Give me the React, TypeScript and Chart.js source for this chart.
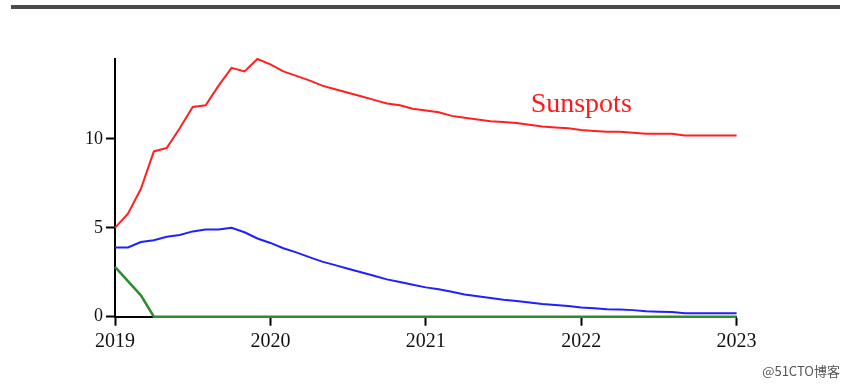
import React, { useEffect, useRef } from "react";
import { Chart, registerables } from "chart.js";

Chart.register(...registerables);

// Monthly samples from Jan 2019 (index 0) to Jan 2023 (index 48)
const startYear = 2019;
const monthIndex = [
  0, 1, 2, 3, 4, 5, 6, 7, 8, 9, 10, 11, 12, 13, 14, 15, 16, 17, 18, 19, 20, 21, 22, 23, 24,
  25, 26, 27, 28, 29, 30, 31, 32, 33, 34, 35, 36, 37, 38, 39, 40, 41, 42, 43, 44, 45, 46, 47, 48,
];

const sunspots = [
  5.0, 5.8, 7.2, 9.3, 9.5, 10.6, 11.8, 11.9, 13.0, 14.0, 13.8, 14.5, 14.2, 13.8, 13.55, 13.3,
  13.0, 12.8, 12.6, 12.4, 12.2, 12.0, 11.9, 11.7, 11.6, 11.5, 11.3, 11.2, 11.1, 11.0, 10.95,
  10.9, 10.8, 10.7, 10.65, 10.6, 10.5, 10.45, 10.4, 10.4, 10.35, 10.3, 10.3, 10.3, 10.2, 10.2,
  10.2, 10.2, 10.2,
];

const blueSeries = [
  3.9, 3.9, 4.2, 4.3, 4.5, 4.6, 4.8, 4.9, 4.9, 5.0, 4.75, 4.4, 4.15, 3.85, 3.62, 3.35, 3.1,
  2.9, 2.7, 2.5, 2.3, 2.1, 1.95, 1.8, 1.65, 1.55, 1.4, 1.25, 1.15, 1.05, 0.95, 0.88, 0.8, 0.72,
  0.66, 0.6, 0.52, 0.47, 0.42, 0.4, 0.37, 0.3, 0.28, 0.27, 0.2, 0.2, 0.2, 0.2, 0.2,
];

const greenSeries = [
  2.8, 2.0, 1.2, 0, 0, 0, 0, 0, 0, 0, 0, 0, 0, 0, 0, 0, 0, 0, 0, 0, 0, 0, 0, 0, 0, 0, 0, 0, 0,
  0, 0, 0, 0, 0, 0, 0, 0, 0, 0, 0, 0, 0, 0, 0, 0, 0, 0, 0, 0,
];

const xTicks = [2019, 2020, 2021, 2022, 2023];
const xTickLabels = ["2019", "2020", "2021", "2022", "2023"];
const yTicks = [0, 5, 10];
const yTickLabels = ["0", "5", "10"];

const annotationText = "Sunspots";
const annotationX = 2022.0;
const annotationY = 11.5;

const watermark = "@51CTO博客";

const toPoints = (vals: number[]) =>
  monthIndex.map((m, i) => ({ x: startYear + m / 12, y: vals[i] }));

const labelPlugin = {
  id: "sunspotsLabel",
  afterDatasetsDraw(chart: any) {
    const { ctx, scales } = chart;
    const x = scales.x.getPixelForValue(annotationX);
    const y = scales.y.getPixelForValue(annotationY);
    ctx.save();
    ctx.font = '28px "Liberation Serif"';
    ctx.fillStyle = "#ff1a1a";
    ctx.textAlign = "center";
    ctx.textBaseline = "alphabetic";
    ctx.fillText(annotationText, x, y);
    ctx.restore();
  },
};

export default function App() {
  const canvasRef = useRef<HTMLCanvasElement | null>(null);

  useEffect(() => {
    const canvas = canvasRef.current;
    if (!canvas) return;
    const chart = new Chart(canvas, {
      type: "line",
      data: {
        datasets: [
          {
            label: "Sunspots",
            data: toPoints(sunspots),
            borderColor: "#ff2020",
            borderWidth: 2,
            pointRadius: 0,
            tension: 0,
            fill: false,
            clip: false,
          },
          {
            label: "Blue",
            data: toPoints(blueSeries),
            borderColor: "#2020ff",
            borderWidth: 2,
            pointRadius: 0,
            tension: 0,
            fill: false,
            clip: false,
          },
          {
            label: "Green",
            data: toPoints(greenSeries),
            borderColor: "#2d8c2d",
            borderWidth: 2.5,
            pointRadius: 0,
            tension: 0,
            fill: false,
            clip: false,
          },
        ],
      },
      options: {
        animation: false,
        responsive: false,
        maintainAspectRatio: false,
        layout: {
          padding: { left: 0, top: 59, right: 111.4, bottom: 27.3 },
        },
        plugins: {
          legend: { display: false },
          tooltip: { enabled: false },
        },
        scales: {
          x: {
            type: "linear",
            min: xTicks[0],
            max: xTicks[xTicks.length - 1],
            afterBuildTicks: (scale: any) => {
              scale.ticks = xTicks.map((v) => ({ value: v }));
            },
            afterFit: (scale: any) => {
              scale.height = 40;
            },
            border: { display: true, color: "#000", width: 2 },
            grid: {
              drawOnChartArea: false,
              drawTicks: true,
              tickLength: 9,
              tickWidth: 2,
              tickColor: "#000",
              color: "#000",
            },
            ticks: {
              padding: 4,
              color: "#111",
              maxRotation: 0,
              autoSkip: false,
              font: { family: '"Liberation Serif"', size: 20 },
              callback: (v: any) => {
                const i = xTicks.indexOf(Number(v));
                return i >= 0 ? xTickLabels[i] : "";
              },
            },
          },
          y: {
            type: "linear",
            min: 0,
            max: 14.5,
            afterBuildTicks: (scale: any) => {
              scale.ticks = yTicks.map((v) => ({ value: v }));
            },
            afterFit: (scale: any) => {
              scale.width = 115;
            },
            border: { display: true, color: "#000", width: 2 },
            grid: {
              drawOnChartArea: false,
              drawTicks: true,
              tickLength: 9,
              tickWidth: 2,
              tickColor: "#000",
              color: "#000",
            },
            ticks: {
              padding: 3,
              color: "#111",
              autoSkip: false,
              font: { family: '"Liberation Serif"', size: 18 },
              callback: (v: any) => {
                const i = yTicks.indexOf(Number(v));
                return i >= 0 ? yTickLabels[i] : "";
              },
            },
          },
        },
      },
      plugins: [labelPlugin],
    });
    return () => chart.destroy();
  }, []);

  return (
    <div
      style={{
        position: "fixed",
        left: 0,
        top: 0,
        width: 848,
        height: 384,
        background: "#fff",
        overflow: "hidden",
      }}
    >
      <div
        style={{
          position: "absolute",
          left: 11,
          top: 5,
          width: 829,
          height: 4,
          background: "#4a4a4a",
        }}
      />
      <canvas
        ref={canvasRef}
        width={848}
        height={384}
        style={{ position: "absolute", left: 0, top: 0, width: 848, height: 384 }}
      />
      <div
        style={{
          position: "absolute",
          right: 8,
          bottom: 5,
          fontFamily: '"Noto Sans CJK SC", "Noto Sans", sans-serif',
          fontSize: 13,
          color: "#555",
          lineHeight: "16px",
          whiteSpace: "nowrap",
        }}
      >
        {watermark}
      </div>
    </div>
  );
}
